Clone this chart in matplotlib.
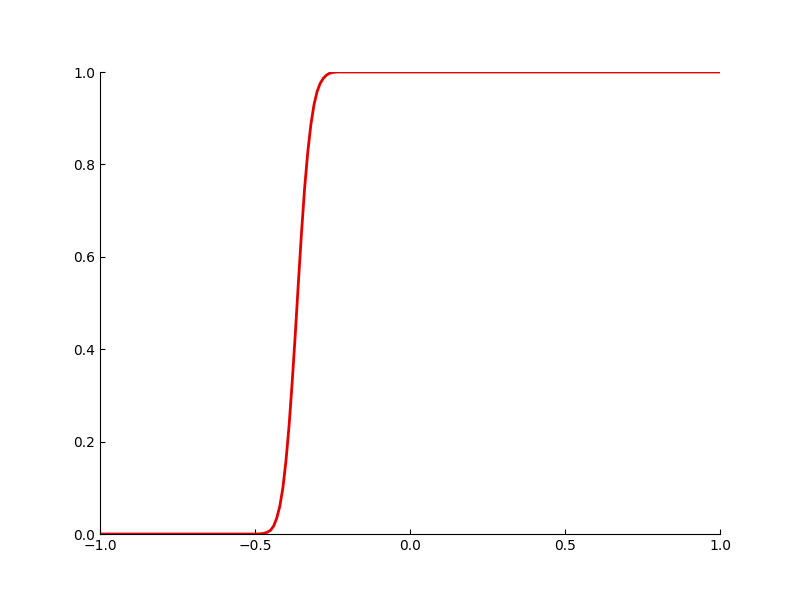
import numpy as np
import matplotlib
matplotlib.use("Agg")
import matplotlib.pyplot as plt

# valeurs
x_vals = [-1.00, -0.50, -0.49, -0.48, -0.47, -0.46, -0.45, -0.44, -0.43, -0.42,
          -0.41, -0.40, -0.39, -0.38, -0.37, -0.36, -0.35, -0.34, -0.33, -0.32,
          -0.31, -0.30, -0.29, -0.28, -0.27, -0.26, -0.25, -0.24, -0.23, 1.00]
y_vals = [0.000, 0.000, 0.0002, 0.0006, 0.0016, 0.004, 0.008, 0.017, 0.034, 0.060,
          0.100, 0.159, 0.235, 0.329, 0.433, 0.545, 0.652, 0.748, 0.825, 0.885,
          0.928, 0.957, 0.975, 0.986, 0.993, 0.997, 0.999, 0.9997, 1.000, 1.000]

fig, ax = plt.subplots(figsize=(8, 6), dpi=100)
ax.plot(x_vals, y_vals, color='#e60000', linewidth=2)

ax.set_xlim(-1, 1)
ax.set_ylim(0, 1)
ax.spines['top'].set_visible(False)
ax.spines['right'].set_visible(False)
ax.tick_params(direction='in', top=False, right=False)
ax.set_xticks([-1.0, -0.5, 0.0, 0.5, 1.0])
ax.set_yticks([0.0, 0.2, 0.4, 0.6, 0.8, 1.0])

fig.savefig("out.png", dpi=100)
